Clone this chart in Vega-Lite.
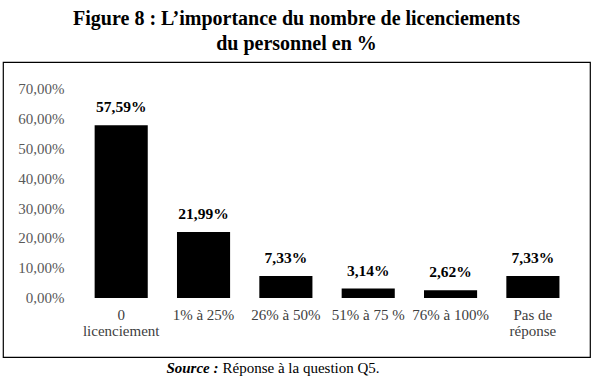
{
  "$schema": "https://vega.github.io/schema/vega-lite/v6.json",
  "width": 587,
  "height": 295,
  "autosize": {"type": "none"},
  "padding": {"left": 3, "top": 62, "right": 8, "bottom": 23},
  "background": "white",
  "config": {
    "locale": {"number": {"decimal": ",", "thousands": " ", "grouping": [3], "currency": ["", " €"]}},
    "view": {"stroke": "black", "strokeWidth": 1.2},
    "font": "Liberation Serif"
  },
  "title": {
    "text": ["Figure 8 : L’importance du nombre de licenciements", "du personnel en %"],
    "font": "Liberation Serif",
    "fontSize": 20,
    "fontWeight": "bold",
    "color": "black",
    "lineHeight": 25,
    "anchor": "middle",
    "offset": 8
  },
  "data": {
    "values": [
      {"cat": "0 licenciement", "v": 0.5759},
      {"cat": "1% à 25%", "v": 0.2199},
      {"cat": "26% à 50%", "v": 0.0733},
      {"cat": "51% à 75 %", "v": 0.0314},
      {"cat": "76% à 100%", "v": 0.0262},
      {"cat": "Pas de réponse", "v": 0.0733}
    ]
  },
  "encoding": {
    "x": {
      "field": "cat",
      "type": "nominal",
      "sort": null,
      "scale": {"paddingInner": 0.355, "paddingOuter": 0.742, "align": 0.75},
      "axis": {
        "title": null,
        "orient": "bottom",
        "offset": -59,
        "domain": false,
        "ticks": false,
        "labelAngle": 0,
        "labelPadding": 9,
        "labelFont": "Liberation Serif",
        "labelFontSize": 15,
        "labelColor": "#404040",
        "labelLineHeight": 16,
        "labelBaseline": "top",
        "labelExpr": "datum.label == '0 licenciement' ? ['0', 'licenciement'] : datum.label == 'Pas de réponse' ? ['Pas de', 'réponse'] : datum.label"
      }
    },
    "y": {
      "field": "v",
      "type": "quantitative",
      "scale": {"domain": [-0.1967, 0.7867], "nice": false, "zero": false},
      "axis": {
        "title": null,
        "orient": "left",
        "offset": -63,
        "values": [0, 0.1, 0.2, 0.3, 0.4, 0.5, 0.6, 0.7],
        "format": ".2%",
        "domain": false,
        "ticks": false,
        "grid": false,
        "labelPadding": 2,
        "labelFont": "Liberation Serif",
        "labelFontSize": 15,
        "labelColor": "#595959"
      }
    }
  },
  "layer": [
    {"mark": {"type": "bar", "color": "black"}},
    {
      "mark": {"type": "text", "baseline": "bottom", "dy": -10, "font": "Liberation Serif", "fontSize": 15.5, "fontWeight": "bold", "color": "black"},
      "encoding": {"text": {"field": "v", "type": "quantitative", "format": ".2%"}}
    },
    {
      "data": {"values": [{"a": "0 licenciement", "b": "Pas de réponse", "y0": 0}]},
      "mark": {"type": "rule", "color": "#bfbfbf", "strokeWidth": 1},
      "encoding": {
        "x": {"datum": "0 licenciement", "bandPosition": -0.275},
        "x2": {"datum": "Pas de réponse", "bandPosition": 1.54},
        "y": {"datum": 0}
      }
    },
    {
      "data": {"values": [{"label": "Source :", "rest": "Réponse à la question Q5.", "yv": -0.2333}]},
      "mark": {"type": "text", "align": "right", "baseline": "middle", "dx": -78, "font": "Liberation Serif", "fontSize": 15, "fontWeight": "bold", "fontStyle": "italic", "color": "black"},
      "encoding": {
        "x": {"value": 293.5},
        "y": {"field": "yv", "type": "quantitative"},
        "text": {"field": "label"}
      }
    },
    {
      "data": {"values": [{"label": "Source :", "rest": "Réponse à la question Q5.", "yv": -0.2333}]},
      "mark": {"type": "text", "align": "left", "baseline": "middle", "dx": -74, "font": "Liberation Serif", "fontSize": 15, "color": "black"},
      "encoding": {
        "x": {"value": 293.5},
        "y": {"field": "yv", "type": "quantitative"},
        "text": {"field": "rest"}
      }
    }
  ]
}
